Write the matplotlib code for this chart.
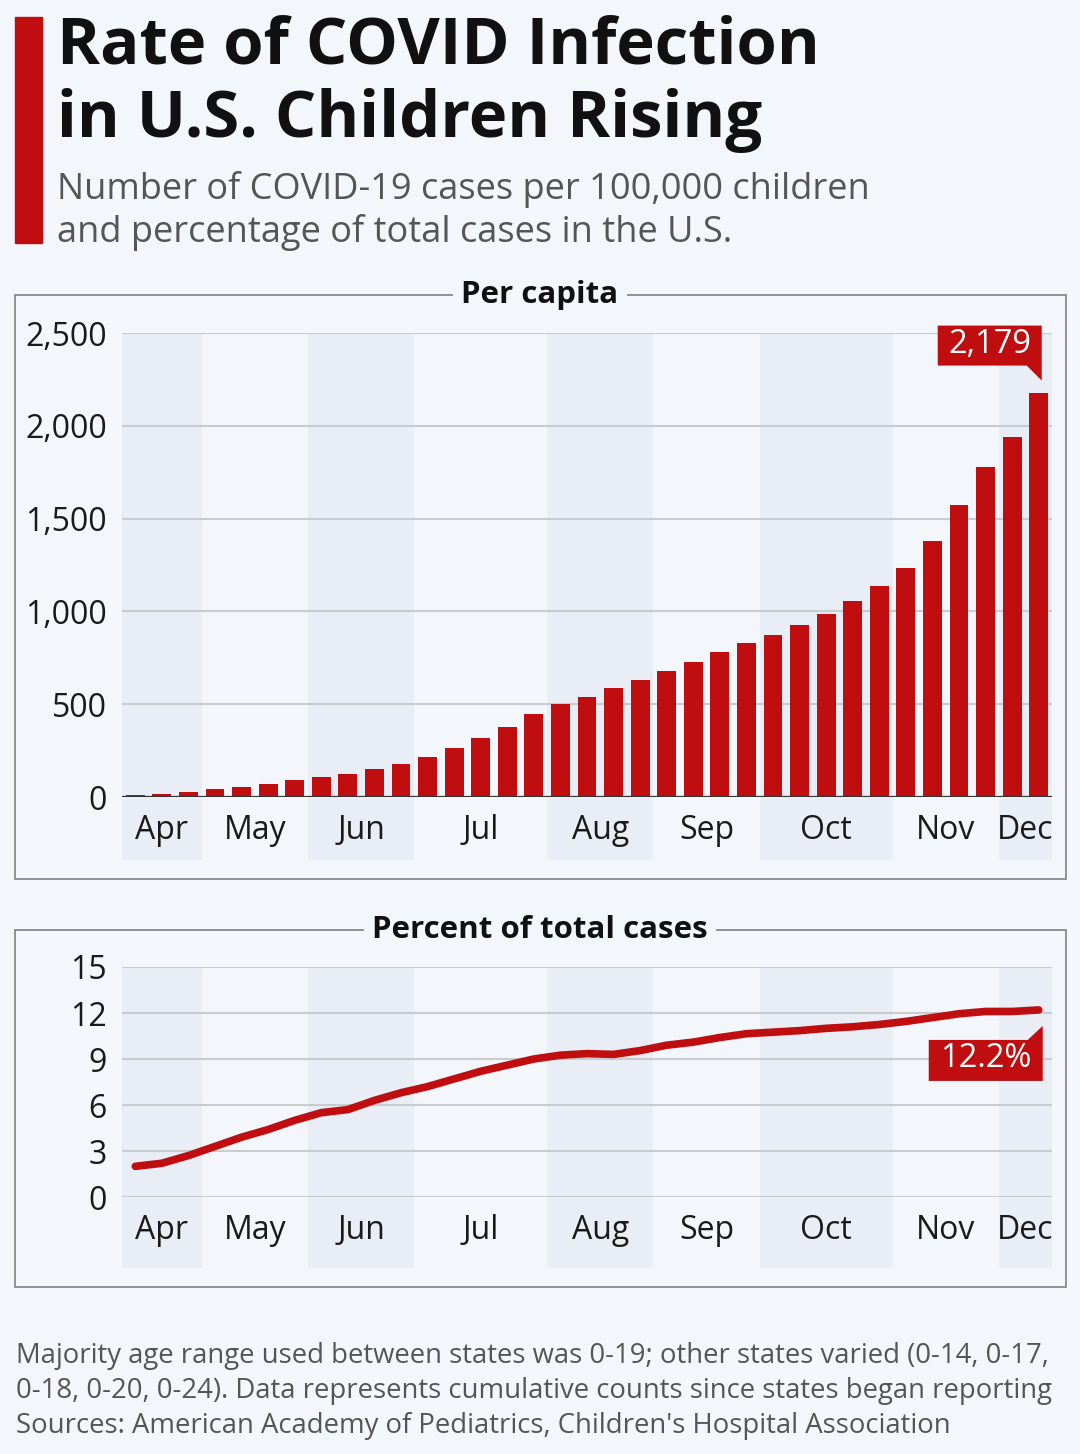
import matplotlib.pyplot as plt
import matplotlib.patches as mpatches
import matplotlib.transforms as mtransforms
import numpy as np

plt.rcParams['font.family'] = ['Open Sans', 'DejaVu Sans']

# data
months = ['Apr', 'May', 'Jun', 'Jul', 'Aug', 'Sep', 'Oct', 'Nov', 'Dec']
weeks_in_month = [3, 4, 4, 5, 4, 4, 5, 4, 2]
per_capita = [9, 16, 27, 41, 56, 70, 90, 108, 126, 151,
              180, 216, 262, 316, 375, 446, 500, 541, 585, 631,
              680, 730, 779, 831, 874, 928, 988, 1056, 1137, 1234,
              1382, 1573, 1778, 1941, 2179]
pct_total = [2.0, 2.2, 2.7, 3.3, 3.9, 4.4, 5.0, 5.5, 5.7, 6.3,
             6.8, 7.2, 7.7, 8.2, 8.6, 9.0, 9.25, 9.35, 9.3, 9.55,
             9.9, 10.1, 10.4, 10.65, 10.75, 10.85, 11.0, 11.1, 11.25, 11.45,
             11.7, 11.95, 12.1, 12.1, 12.2]
cap_ticks = [0, 500, 1000, 1500, 2000, 2500]
pct_ticks = [0, 3, 6, 9, 12, 15]

W, H = 1080, 1454
BG = '#f3f7fb'
BAND = '#e9eef6'
RED = '#c00d10'
GRID = '#c9cccf'

fig = plt.figure(figsize=(W / 100, H / 100), dpi=100, facecolor=BG)


def fx(px):
    return px / W


def fy(py):
    return 1 - py / H


# header
fig.patches.append(mpatches.Rectangle((fx(15), fy(243)), fx(27), (243 - 17) / H,
                                      transform=fig.transFigure, color=RED))
fig.text(fx(57), fy(64), 'Rate of COVID Infection', fontsize=47, fontweight='bold',
         color='#111111', va='baseline')
fig.text(fx(57), fy(137), 'in U.S. Children Rising', fontsize=47, fontweight='bold',
         color='#111111', va='baseline')
fig.text(fx(57), fy(199), 'Number of COVID-19 cases per 100,000 children', fontsize=26,
         color='#555555', va='baseline')
fig.text(fx(57), fy(242), 'and percentage of total cases in the U.S.', fontsize=26,
         color='#555555', va='baseline')

# panel frames
for top, bottom, label in [(295, 879, 'Per capita'), (930, 1287, 'Percent of total cases')]:
    fig.patches.append(mpatches.Rectangle((fx(15), fy(bottom)), fx(1051), (bottom - top) / H,
                                          transform=fig.transFigure, facecolor='none',
                                          edgecolor='#8a8a8a', lw=1.3))
    fig.text(0.5, fy(top), label, fontsize=22.5, fontweight='bold', color='#111111',
             ha='center', va='center',
             bbox=dict(facecolor=BG, edgecolor='none', pad=6))

x = np.arange(len(per_capita))
edges = np.concatenate([[0], np.cumsum(weeks_in_month)]) - 0.5
centers = (edges[:-1] + edges[1:]) / 2


def style_axis(ax, ticks, labels, band_bottom):
    ax.set_facecolor('none')
    ax.set_xlim(-0.5, len(x) - 0.5)
    trans = mtransforms.blended_transform_factory(ax.transData, ax.transAxes)
    for i in range(0, len(months), 2):
        ax.add_patch(mpatches.Rectangle((edges[i], band_bottom), edges[i + 1] - edges[i],
                                        1 - band_bottom, transform=trans, color=BAND,
                                        clip_on=False, zorder=0, lw=0))
    ax.set_yticks(ticks)
    ax.set_yticklabels(labels)
    ax.grid(axis='y', color=GRID, lw=1.5, zorder=1)
    ax.set_axisbelow(True)
    for s in ax.spines.values():
        s.set_visible(False)
    ax.set_xticks(centers)
    ax.set_xticklabels(months)
    ax.tick_params(axis='both', length=0, labelsize=23, colors='#1a1a1a')
    ax.tick_params(axis='y', pad=11)
    ax.tick_params(axis='x', pad=12)


# per capita bars
ax1 = fig.add_axes([fx(122), fy(797), fx(930), 464 / H])
style_axis(ax1, cap_ticks, [f'{t:,}' for t in cap_ticks], -63 / 464)
ax1.set_ylim(0, 2500)
ax1.bar(x, per_capita, width=0.71, color=RED, zorder=3)
ax1.axhline(0, color='#333333', lw=1.6, zorder=4)

# percent line
ax2 = fig.add_axes([fx(122), fy(1197), fx(930), 230 / H])
style_axis(ax2, pct_ticks, [str(t) for t in pct_ticks], -71 / 230)
ax2.set_ylim(0, 15)
ax2.plot(x, pct_total, color=RED, lw=5.5, solid_capstyle='round', zorder=3)


def callout(ax, xv, yv, verts, text, tx, ty):
    fig.canvas.draw()
    px, py = ax.transData.transform((xv, yv))
    tf = mtransforms.Affine2D().translate(px, py)
    fig.patches.append(mpatches.Polygon(verts, closed=True, transform=tf,
                                        facecolor=RED, edgecolor='none', zorder=10))
    fig.text(tx / W + px / W, ty / H + py / H, text, fontsize=23.5, fontweight='medium',
             color='white', ha='center', va='center', zorder=11)


callout(ax1, x[-1], per_capita[-1],
        [(-101, 67), (3, 67), (3, 12), (-12, 27), (-101, 27)],
        f'{per_capita[-1]:,}', -49, 48)
callout(ax2, x[-1], pct_total[-1],
        [(-110, -30), (-11, -30), (4, -16), (4, -71), (-110, -71)],
        f'{pct_total[-1]}%', -53, -49)

# footer
foot = ['Majority age range used between states was 0-19; other states varied (0-14, 0-17,',
        '0-18, 0-20, 0-24). Data represents cumulative counts since states began reporting',
        "Sources: American Academy of Pediatrics, Children's Hospital Association"]
for i, line in enumerate(foot):
    fig.text(fx(16), fy(1363 + 35 * i), line, fontsize=19.8, color='#555555', va='baseline')

fig.savefig('out.png', dpi=100, facecolor=BG)
